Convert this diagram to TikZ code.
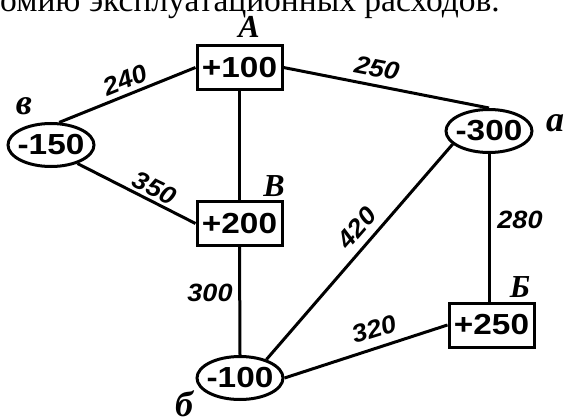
\documentclass[tikz,border=0pt]{standalone}
\usepackage{fontspec}
\usepackage{graphicx}
\setmainfont{Liberation Serif}
\newfontfamily\arialf{Liberation Sans}
\usetikzlibrary{shapes.geometric}
\newcommand{\wide}[1]{\scalebox{1.15}[1]{#1}}
\newcommand{\wideb}[1]{\scalebox{1.08}[1]{#1}}
\tikzset{
  edge/.style={line width=3pt},
  boxnode/.style={draw, line width=3pt, minimum width=85pt, minimum height=44pt, inner sep=0pt,
    font=\arialf\bfseries\fontsize{29}{29}\selectfont},
  ellnode/.style={draw, ellipse, line width=3pt, minimum width=86pt, minimum height=43pt, inner sep=0pt,
    font=\arialf\bfseries\fontsize{29}{29}\selectfont},
  elabel/.style={inner sep=0pt, font=\arialf\bfseries\itshape\fontsize{25}{25}\selectfont},
  vlabel/.style={inner sep=0pt, font=\bfseries\itshape\fontsize{32}{32}\selectfont},
  vlabelsmall/.style={inner sep=0pt, font=\bfseries\itshape\fontsize{36}{36}\selectfont},
}
\begin{document}
\begin{tikzpicture}[x=1pt,y=-1pt]
\useasboundingbox (0,0) rectangle (565,417);
\clip (0,0) rectangle (565,417);
\node[anchor=base east, inner sep=0pt, font=\fontsize{33.5}{33.5}\selectfont] (top) at (500,12) {экономию эксплуатационных расходов.};
% nodes
\node[boxnode] (A) at (239.5,67.5) {\wide{+100}};
\node[boxnode] (B) at (239.5,223.5) {\wide{+200}};
\node[boxnode] (Bb) at (491.5,325) {\wide{+250}};
\node[ellnode] (v) at (51,145) {\makebox[0pt]{\wide{-150}}};
\node[ellnode] (a) at (489,131) {\makebox[0pt]{\wide{-300}}};
\node[ellnode] (b) at (240,378) {\makebox[0pt]{\wide{-100}}};
% vertex letters
\node[vlabel] (lA) at (249,27) {A};
\node[vlabel] (lB) at (274,186) {B};
\node[vlabelsmall] (lv) at (24,106) {в};
\node[vlabelsmall, anchor=west] (la) at (546,123) {а};
\node[vlabel] (lBb) at (520,287) {Б};
\node[vlabelsmall] (lb) at (184,404) {б};
% edges
\draw[edge] (A.west) -- (v.70);
\draw[edge] (A.east) -- (a.north);
\draw[edge] (A.south) -- (B.north);
\draw[edge] (v.-35) -- (B.west);
\draw[edge] (B.south) -- (b.north);
\draw[edge] (a.200) -- (b.35);
\draw[edge] (a.south) -- (a.south |- Bb.north);
\draw[edge] (b.east) -- (Bb.west);
% edge labels
\node[elabel, rotate=22] (e240) at (125,80) {\wideb{240}};
\node[elabel, rotate=-11] (e250) at (377,68) {\wideb{250}};
\node[elabel, rotate=-26] (e350) at (155,188) {\wideb{350}};
\node[elabel] (e300) at (210,293) {\wideb{300}};
\node[elabel, rotate=49] (e420) at (357,228) {\wideb{420}};
\node[elabel] (e280) at (520,220) {\wideb{280}};
\node[elabel, rotate=17] (e320) at (374,329) {\wideb{320}};
\end{tikzpicture}
\end{document}
